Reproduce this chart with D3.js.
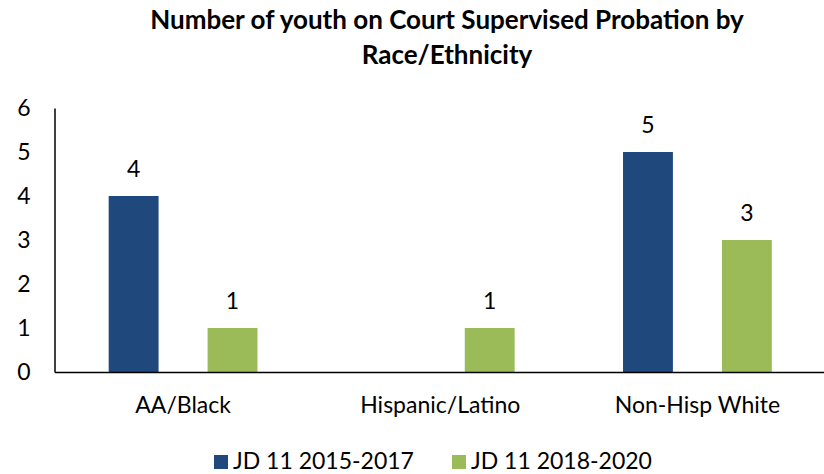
<!DOCTYPE html>
<html>
<head>
<meta charset="utf-8">
<script src="https://cdn.jsdelivr.net/npm/d3@7"></script>
<style>
  html, body { margin: 0; padding: 0; background: #fff; }
  svg { display: block; font-family: "Lato", "Open Sans", sans-serif; }
</style>
</head>
<body>
<svg id="chart" width="824" height="474"></svg>
<script>
// Youth on court supervised probation, by race/ethnicity
const categories = ["AA/Black", "Hispanic/Latino", "Non-Hisp White"];
const seriesNames = ["JD 11 2015-2017", "JD 11 2018-2020"];
const values2015 = [4, 0, 5];
const values2018 = [1, 1, 3];
const yTicks = [0, 1, 2, 3, 4, 5, 6];
const colors = ["#1F497D", "#9BBB59"];

const svg = d3.select("#chart");
const W = 824, H = 474;
const margin = { left: 54.5, right: -2, top: 108, bottom: 102 };
const plotBottom = H - margin.bottom;
const fontSize = 23;

const series = [values2015, values2018];

// One band per category; the two bars sit at fixed fractions of the band
const x = d3.scaleBand()
  .domain(categories)
  .range([margin.left, W - margin.right])
  .paddingInner(0)
  .paddingOuter(0);

const barPos = d3.scalePoint()
  .domain(d3.range(series.length))
  .range([x.bandwidth() * 0.3077, x.bandwidth() * 0.6923]);
const barW = x.bandwidth() * 0.194;

const y = d3.scaleLinear()
  .domain([0, 6])
  .range([plotBottom, margin.top]);

// Title
const title = svg.append("text")
  .attr("text-anchor", "middle")
  .attr("font-weight", "bold")
  .attr("font-size", 26)
  .attr("fill", "#000");
title.append("tspan").attr("x", 447).attr("y", 29)
  .text("Number of youth on Court Supervised Probation by");
title.append("tspan").attr("x", 447).attr("y", 64)
  .text("Race/Ethnicity");

// Y axis
const yAxis = d3.axisLeft(y).tickValues(yTicks).tickSize(0).tickPadding(24)
  .tickFormat(d3.format("d"));
const gy = svg.append("g")
  .attr("transform", `translate(${margin.left},0)`)
  .call(yAxis);
gy.select(".domain").attr("stroke", "#000").attr("stroke-width", 1.5);
gy.selectAll("text").attr("font-size", fontSize).attr("fill", "#000")
  .attr("font-family", "Lato, sans-serif");

// Bars with value labels
const groups = svg.append("g").selectAll("g")
  .data(categories)
  .join("g")
  .attr("transform", d => `translate(${x(d)},0)`);

groups.each(function(cat, ci) {
  const g = d3.select(this);
  series.forEach((vals, si) => {
    const v = vals[ci];
    if (!v) return;
    const centre = barPos(si);
    g.append("rect")
      .attr("x", centre - barW / 2)
      .attr("y", y(v))
      .attr("width", barW)
      .attr("height", y(0) - y(v))
      .attr("fill", colors[si]);
    g.append("text")
      .attr("x", centre)
      .attr("y", y(v) - 19)
      .attr("text-anchor", "middle")
      .attr("font-size", fontSize)
      .attr("fill", "#000")
      .text(v);
  });
});

// X axis
const xAxis = d3.axisBottom(x).tickSize(0).tickPadding(25);
const gx = svg.append("g")
  .attr("transform", `translate(0,${plotBottom})`)
  .call(xAxis);
gx.select(".domain").attr("stroke", "#000").attr("stroke-width", 1.5);
gx.selectAll("text").attr("font-size", fontSize).attr("fill", "#000")
  .attr("font-family", "Lato, sans-serif");

// Legend
const legendX = [214, 452];
const legend = svg.append("g").selectAll("g")
  .data(seriesNames)
  .join("g")
  .attr("transform", (d, i) => `translate(${legendX[i]},455)`);
legend.append("rect").attr("width", 14).attr("height", 14)
  .attr("fill", (d, i) => colors[i]);
legend.append("text").attr("x", 19).attr("y", 14)
  .attr("font-size", fontSize).attr("fill", "#000")
  .text(d => d);
</script>
</body>
</html>
